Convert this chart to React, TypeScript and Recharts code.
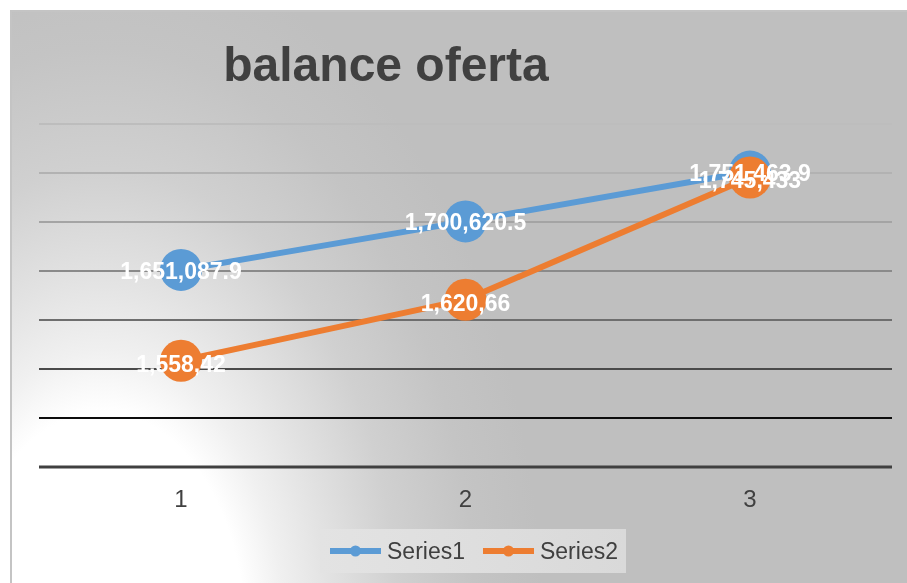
import React from "react";
import { CartesianGrid, LabelList, Legend, Line, LineChart, XAxis, YAxis } from "recharts";

const categories = ["1", "2", "3"];
const series1 = [1651087.9, 1700620.5, 1751463.9];
const series2 = [1558420, 1620660, 1745433];
const series1Labels = ["1,651,087.9", "1,700,620.5", "1,751,463.9"];
const series2Labels = ["1,558,42", "1,620,66", "1,745,433"];
const yTicks = [1450000, 1500000, 1550000, 1600000, 1650000, 1700000, 1750000, 1800000];
// grid line colours, bottom line first
const gridColors = ["#404040", "#0d0d0d", "#4a4a4a", "#6e6e6e", "#8a8a8a", "#a4a4a4", "#b2b2b2", "#bdbdbd"];

const BLUE = "#5b9bd5";
const ORANGE = "#ed7d31";
const FONT = "'Liberation Sans', Arial, sans-serif";

const data = categories.map((c, i) => ({ cat: c, s1: series1[i], s2: series2[i] }));

const makeLabel = (labels: string[], values: number[], dy: number) => (props: any) => {
  const vb = props.viewBox || {};
  const x = props.x ?? vb.x;
  const y = props.y ?? vb.y;
  let idx = props.index;
  if (idx === undefined) idx = values.indexOf(props.value);
  if (x === undefined || y === undefined) return null;
  return (
    <text
      x={x}
      y={y + dy}
      textAnchor="middle"
      fill="#ffffff"
      fontSize={23}
      fontWeight="bold"
      fontFamily={FONT}
    >
      {labels[idx]}
    </text>
  );
};

const gridLine = (props: any) => {
  const { x1, x2, y1, y2, index } = props;
  const bottom = index === 0;
  return (
    <line
      x1={x1}
      x2={x2}
      y1={y1}
      y2={y2}
      stroke={gridColors[index] ?? "#999"}
      strokeWidth={bottom ? 3 : 2}
    />
  );
};

const legendContent = (props: any) => {
  const items = (props.payload || []).filter((p: any) => p.type !== "none");
  return (
    <div
      style={{
        width: 306,
        height: 44,
        background: "linear-gradient(to right, #e3e3e3, #d9d9d9)",
        display: "flex",
        alignItems: "center",
        paddingLeft: 10,
        boxSizing: "border-box",
        fontFamily: FONT,
        fontSize: 23,
        color: "#404040",
      }}
    >
      {items.map((p: any, i: number) => (
        <div key={i} style={{ display: "flex", alignItems: "center", marginRight: 18 }}>
          <svg width={51} height={14} style={{ display: "block" }}>
            <line x1={0} x2={51} y1={7} y2={7} stroke={p.color} strokeWidth={6} />
            <circle cx={25.5} cy={7} r={5.5} fill={p.color} />
          </svg>
          <span style={{ marginLeft: 6, lineHeight: "26px" }}>{p.value}</span>
        </div>
      ))}
    </div>
  );
};

export default function App() {
  return (
    <div
      style={{
        position: "fixed",
        left: 10,
        top: 10,
        width: 897,
        height: 573,
        boxSizing: "border-box",
        borderLeft: "2px solid #c4c4c4",
        borderTop: "2px solid #c4c4c4",
        background:
          "radial-gradient(480px 760px at 90px 628px, #ffffff 0%, #ffffff 30%, #f0f0f0 38%, #e2e2e2 48%, #d0d0d0 62%, #c4c4c4 78%, #bfbfbf 92%)",
        overflow: "hidden",
      }}
    >
      <div
        style={{
          position: "absolute",
          left: 0,
          top: 29,
          width: 748,
          textAlign: "center",
          fontFamily: FONT,
          fontWeight: "bold",
          fontSize: 48,
          lineHeight: "48px",
          color: "#404040",
        }}
      >
        balance oferta
      </div>
      <div style={{ position: "absolute", left: 0, top: 0 }}>
        <LineChart width={895} height={571} data={data} margin={{ top: 112, right: 15, bottom: 86, left: 27 }}>
          <CartesianGrid vertical={false} horizontal={gridLine} />
          <XAxis
            dataKey="cat"
            axisLine={false}
            tickLine={false}
            tickSize={0}
            tickMargin={23}
            padding={{ left: 142, right: 142 }}
            tick={{ fill: "#404040", fontSize: 24, fontFamily: FONT }}
          />
          <YAxis hide domain={[1450000, 1800000]} ticks={yTicks} />
          <Legend
            layout="horizontal"
            verticalAlign="middle"
            align="center"
            wrapperStyle={{ left: 308, top: 517, width: 306, height: 44 }}
            content={legendContent}
          />
          <Line
            dataKey="s1"
            name="Series1"
            stroke={BLUE}
            strokeWidth={6}
            dot={{ r: 21, fill: BLUE, stroke: BLUE, strokeWidth: 0 }}
            activeDot={false}
            isAnimationActive={false}
          />
          <Line
            dataKey="s2"
            name="Series2"
            stroke={ORANGE}
            strokeWidth={6}
            dot={{ r: 21, fill: ORANGE, stroke: ORANGE, strokeWidth: 0 }}
            activeDot={false}
            isAnimationActive={false}
          />
          <Line
            dataKey="s1"
            stroke="none"
            dot={false}
            activeDot={false}
            legendType="none"
            isAnimationActive={false}
          >
            <LabelList dataKey="s1" content={makeLabel(series1Labels, series1, 9)} />
          </Line>
          <Line
            dataKey="s2"
            stroke="none"
            dot={false}
            activeDot={false}
            legendType="none"
            isAnimationActive={false}
          >
            <LabelList dataKey="s2" content={makeLabel(series2Labels, series2, 11)} />
          </Line>
        </LineChart>
      </div>
    </div>
  );
}
